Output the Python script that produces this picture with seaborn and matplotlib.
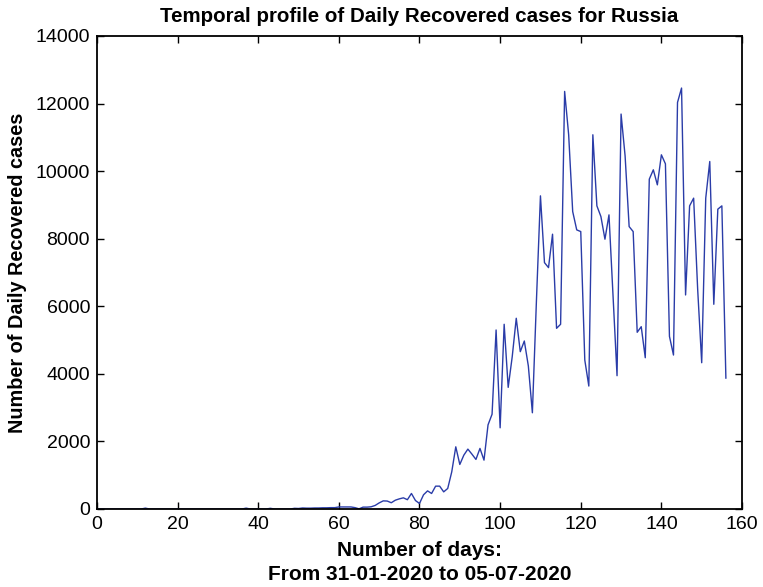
import numpy as np
import pandas as pd
import matplotlib
matplotlib.use("Agg")
import matplotlib.pyplot as plt
import seaborn as sns

# ---- data ----
early_days = list(range(0, 70))
early_vals = [0] * 12 + [25] + [0] * 24 + [25] + [0] * 5 + [20] + [0] * 5 + [20, 15, 30] + \
             [25, 25, 30, 30, 35, 35, 40, 40] + [60, 60, 60, 60, 40, 5, 55, 55, 65, 105]
late_vals = [
    180, 240, 235, 185, 260, 300, 330, 275, 459, 250,   # 70-79
    163, 420, 536, 459, 676, 676, 507, 607, 1099, 1840,  # 80-89
    1318, 1594, 1772, 1624, 1467, 1793, 1446, 2490, 2805, 5298,  # 90-99
    2403, 5467, 3600, 4507, 5645, 4656, 4972, 4231, 2848, 6150,  # 100-109
    9268, 7292, 7144, 8133, 5348, 5467, 12359, 11076, 8803, 8261,  # 110-119
    8211, 4409, 3639, 11076, 8972, 8655, 7985, 8705, 6300, 3945,  # 120-129
    11689, 10450, 8359, 8211, 5230, 5396, 4477, 9763, 10039, 9594,  # 130-139
    10483, 10216, 5110, 4557, 12033, 12459, 6335, 8972, 9200, 6500,  # 140-149
    4329, 9200, 10285, 6059, 8874, 8972, 3867,  # 150-156
]
values = early_vals + late_vals
days = list(range(len(values)))

x_ticks = [0, 20, 40, 60, 80, 100, 120, 140, 160]
y_ticks = [0, 2000, 4000, 6000, 8000, 10000, 12000, 14000]

title = "Temporal profile of Daily Recovered cases for Russia"
xlabel = "Number of days:\nFrom 31-01-2020 to 05-07-2020"
ylabel = "Number of Daily Recovered cases"

df = pd.DataFrame({"day": days, "recovered": values})

sns.set_theme(style="white")
plt.rcParams["font.family"] = ["Liberation Sans", "DejaVu Sans"]
plt.rcParams["text.color"] = "black"
plt.rcParams["axes.labelcolor"] = "black"
plt.rcParams["xtick.color"] = "black"
plt.rcParams["ytick.color"] = "black"

fig = plt.figure(figsize=(7.63, 5.87), dpi=100)
ax = fig.add_axes([0.1271, 0.1329, 0.9725 - 0.1271, 0.9387 - 0.1329])

sns.lineplot(data=df, x="day", y="recovered", ax=ax, color="#2a3ca8",
             linewidth=1.0, estimator=None)

ax.set_xlim(0, 160)
ax.set_ylim(0, 14000)
ax.set_xticks(x_ticks)
ax.set_yticks(y_ticks)
ax.set_xticklabels([str(t) for t in x_ticks], fontsize=14)
ax.set_yticklabels([str(t) for t in y_ticks], fontsize=14)

ax.tick_params(direction="in", length=5, width=1.0, top=True, right=True,
               bottom=True, left=True, colors="black", pad=5, labelcolor="black")
for s in ax.spines.values():
    s.set_visible(True)
    s.set_color("black")
    s.set_linewidth(1.3)

ax.set_title(title, fontsize=14.8, fontweight="bold", pad=10, color="black")
ax.set_xlabel(xlabel, fontsize=15, fontweight="bold", labelpad=6, linespacing=1.3,
              color="black")
ax.set_ylabel(ylabel, fontsize=14.3, fontweight="bold", labelpad=6, color="black")
ax.grid(False)

fig.savefig("out.png", dpi=100)
